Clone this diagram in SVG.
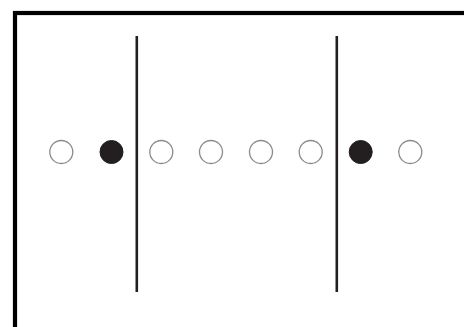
<svg xmlns="http://www.w3.org/2000/svg" width="464" height="327" viewBox="0 0 464 327">
<style>
.open{fill:#fff;stroke:#8a8a8a;stroke-width:1.3}
.full{fill:#231f20;stroke:#231f20;stroke-width:1}
.bar{stroke:#231f20;stroke-width:2.6}
</style>
<rect width="464" height="327" fill="#fff"/>
<rect x="15" y="13" width="520" height="400" fill="none" stroke="#000" stroke-width="4.2"/>
<g id="connectors">
<line class="bar" x1="136.8" y1="36" x2="136.8" y2="292"/>
<line class="bar" x1="336.8" y1="36" x2="336.8" y2="292"/>
</g>
<g id="n1"><circle class="open" cx="61.3" cy="152" r="11.5"/></g>
<g id="n2"><circle class="full" cx="111.5" cy="152" r="11.5"/></g>
<g id="n3"><circle class="open" cx="161.3" cy="152" r="11.5"/></g>
<g id="n4"><circle class="open" cx="211" cy="152" r="11.5"/></g>
<g id="n5"><circle class="open" cx="261" cy="152" r="11.5"/></g>
<g id="n6"><circle class="open" cx="310.7" cy="152" r="11.5"/></g>
<g id="n7"><circle class="full" cx="360.7" cy="152" r="11.5"/></g>
<g id="n8"><circle class="open" cx="410.3" cy="152" r="11.5"/></g>
</svg>
